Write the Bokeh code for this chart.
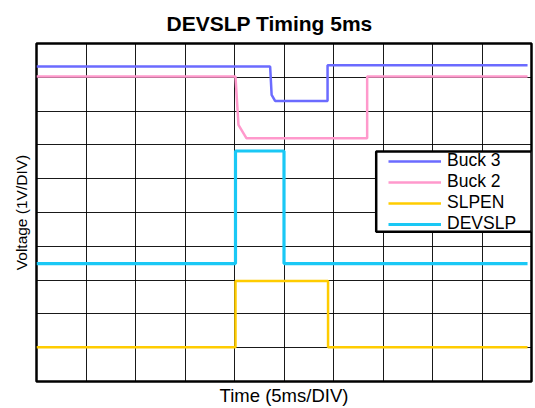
from bokeh.plotting import figure
from bokeh.models import (Range1d, FixedTicker, Legend, LegendItem, BoxAnnotation, Title)
from bokeh.embed import file_html
from bokeh.resources import INLINE

# ---- data (time in ms, voltage in divisions of 1 V) ----
t_buck3 = [0, 23.6, 23.75, 24.1, 29.4, 29.4, 49.6]
v_buck3 = [9.32, 9.32, 8.48, 8.30, 8.30, 9.36, 9.36]

t_buck2 = [0, 20.1, 20.4, 21.2, 33.4, 33.4, 49.6]
v_buck2 = [9.02, 9.02, 7.59, 7.20, 7.20, 9.02, 9.02]

t_slpen = [0, 20.1, 20.1, 29.45, 29.45, 49.6]
v_slpen = [1.01, 1.01, 2.97, 2.97, 1.01, 1.01]

t_devslp = [0, 20.1, 20.1, 25.0, 25.0, 49.6]
v_devslp = [3.49, 3.49, 6.82, 6.82, 3.49, 3.49]

x_ticks = [0, 5, 10, 15, 20, 25, 30, 35, 40, 45, 50]
y_ticks = [0, 1, 2, 3, 4, 5, 6, 7, 8, 9, 10]

FONT = "Liberation Sans"

p = figure(width=535, height=408, output_backend="svg", toolbar_location=None,
           x_range=Range1d(0, 50), y_range=Range1d(0, 10),
           min_border_left=36, min_border_right=4, min_border_top=43, min_border_bottom=27,
           title="DEVSLP Timing 5ms")

p.title.text_font = FONT
p.title.text_font_size = "21px"
p.title.text_font_style = "bold"
p.title.text_color = "black"
p.title.align = "left"
p.title.offset = 130
p.title.standoff = 17

p.xaxis.visible = False
p.yaxis.visible = False
p.xgrid.ticker = FixedTicker(ticks=x_ticks)
p.ygrid.ticker = FixedTicker(ticks=y_ticks)

p.add_layout(Title(text="Time (5ms/DIV)", align="center", text_font=FONT, text_color="black",
                   text_font_size="18.5px", text_font_style="normal", standoff=3), "below")
p.add_layout(Title(text="Voltage (1V/DIV)", align="center", text_font=FONT, text_color="black",
                   text_font_size="15.5px", text_font_style="normal", standoff=14), "left")

p.xgrid.grid_line_color = "black"
p.ygrid.grid_line_color = "black"
p.xgrid.grid_line_alpha = 0.9
p.ygrid.grid_line_alpha = 0.9
p.xgrid.grid_line_width = 1
p.ygrid.grid_line_width = 1

p.outline_line_color = "black"
p.outline_line_width = 2.5
p.outline_line_alpha = 1

r_b3 = p.line(t_buck3, v_buck3, line_color="#6B6BFF", line_width=2.5)
r_b2 = p.line(t_buck2, v_buck2, line_color="#FF99CC", line_width=2.5)
r_sl = p.line(t_slpen, v_slpen, line_color="#FFCC00", line_width=2.5)
r_dv = p.line(t_devslp, v_devslp, line_color="#1AC8F5", line_width=3.2)

box = BoxAnnotation(left=339.7, right=495, bottom=149.7, top=230,
                    left_units="screen", right_units="screen",
                    bottom_units="screen", top_units="screen",
                    fill_color="white", fill_alpha=1,
                    line_color="black", line_width=2.5, line_alpha=1)
p.add_layout(box)

legend = Legend(items=[LegendItem(label="Buck 3", renderers=[r_b3]),
                       LegendItem(label="Buck 2", renderers=[r_b2]),
                       LegendItem(label="SLPEN", renderers=[r_sl]),
                       LegendItem(label="DEVSLP", renderers=[r_dv])],
                location=(352, 147), padding=0, spacing=0, margin=0,
                glyph_width=53, glyph_height=20, label_height=20, label_standoff=6,
                label_text_font=FONT, label_text_font_size="17.5px", label_text_color="black",
                border_line_color=None, background_fill_alpha=0)
p.add_layout(legend)

open("out.html", "w").write(file_html(p, INLINE))
